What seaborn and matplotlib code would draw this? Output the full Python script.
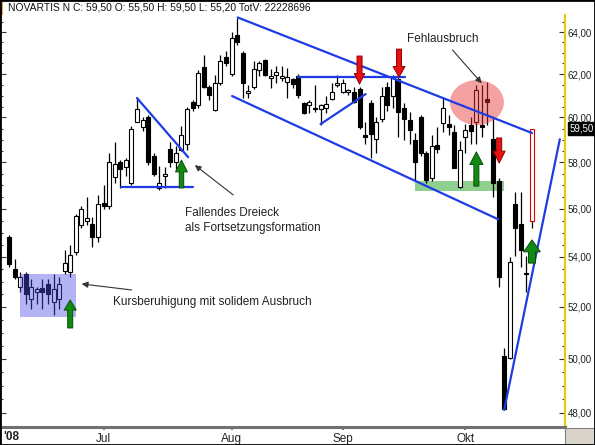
import numpy as np
import pandas as pd
import matplotlib
matplotlib.use("Agg")
import matplotlib.pyplot as plt
import matplotlib.ticker as mticker
import seaborn as sns
from matplotlib.patches import Rectangle, Ellipse
from matplotlib.transforms import blended_transform_factory

# trading days 6 Jun - 17 Oct 2008 (1 Aug Swiss holiday)
dates = pd.bdate_range("2008-06-06", "2008-10-17")
dates = dates[dates != pd.Timestamp("2008-08-01")]

opens = [54.8, 53.5, 52.8, 53.3, 52.3, 52.6, 52.75, 52.9, 52.2, 52.3, 53.45, 53.4, 54.2, 55.3, 55.5, 55.35, 54.8,
         56.25, 56.1, 57.35, 58.0, 57.8, 57.1, 59.8, 59.55, 60.0, 58.3, 56.9, 57.4, 58.6, 58.0, 58.55, 58.8, 60.7,
         60.55, 62.35, 61.4, 60.35, 61.6, 62.8,
         62.0, 63.85, 63.0, 61.1, 61.4, 62.2, 62.65, 61.8, 61.95, 61.8, 61.65, 61.75, 61.9, 60.65, 60.55, 60.45,
         60.4, 60.45, 60.85, 61.5,
         61.15, 61.15, 61.15, 61.3, 59.2, 60.65, 59.05, 59.95, 61.4, 61.0, 61.75, 60.45, 59.9, 59.0, 60.0, 58.4,
         57.3, 58.75, 59.75, 59.7, 59.35, 56.95,
         59.1, 59.65, 59.8, 59.65, 60.85, 59.05, 57.2, 50.1, 50.05, 56.2, 55.35, 53.35, 55.5]
highs = [54.9, 53.9, 53.4, 53.4, 53.1, 52.8, 53.1, 53.1, 53.3, 53.2, 54.3, 54.5, 55.8, 56.1, 56.5, 55.65, 56.6,
         57.0, 58.4, 58.9, 58.1, 58.2, 59.6, 60.9, 60.0, 60.1, 58.4, 57.85, 57.8, 58.9, 58.7, 59.6, 60.5, 60.8,
         62.2, 62.9, 61.5, 61.95, 62.9, 63.1,
         64.0, 64.7, 63.1, 61.5, 62.6, 62.6, 62.7, 62.25, 62.4, 62.4, 62.3, 61.8, 62.0, 60.7, 60.8, 61.5,
         60.6, 61.0, 61.6, 61.95,
         61.75, 61.3, 61.4, 61.4, 59.8, 60.8, 60.0, 61.4, 61.65, 61.95, 61.9, 60.65, 60.25, 59.3, 60.1, 58.5,
         59.2, 59.55, 60.9, 60.1, 59.65, 58.95,
         59.7, 60.0, 61.5, 61.5, 61.65, 60.0, 57.3, 50.4, 54.0, 56.7, 56.7, 54.05, 59.5]
lows = [53.6, 53.1, 52.6, 52.1, 51.9, 52.1, 51.9, 52.1, 51.7, 51.9, 53.3, 53.2, 54.1, 55.2, 55.3, 54.4, 54.6,
        56.0, 56.0, 57.1, 56.9, 57.4, 57.0, 59.8, 59.4, 57.9, 57.4, 56.8, 56.9, 57.8, 57.7, 58.5, 58.55, 60.3,
        60.45, 61.35, 60.8, 60.3, 61.5, 62.4,
        61.9, 63.4, 60.9, 60.9, 61.3, 61.9, 61.9, 61.35, 61.6, 61.7, 60.9, 61.35, 60.9, 60.15, 60.2, 60.25,
        59.65, 60.2, 60.8, 61.4,
        61.1, 61.05, 60.65, 59.5, 58.8, 58.2, 58.4, 59.8, 60.3, 60.45, 59.1, 59.0, 58.8, 57.2, 58.3, 57.1,
        57.2, 58.4, 59.35, 59.2, 57.75, 56.9,
        58.4, 58.8, 58.8, 59.1, 59.65, 56.5, 52.8, 48.1, 50.0, 54.05, 53.6, 52.6, 55.2]
closes = [53.7, 53.2, 53.2, 52.5, 52.8, 52.7, 52.6, 52.5, 52.7, 52.9, 53.75, 54.1, 55.7, 56.0, 55.6, 54.8, 56.2,
          56.1, 58.0, 57.95, 57.7, 58.1, 59.5, 60.4, 59.9, 58.0, 57.5, 57.1, 57.5, 58.0, 58.4, 59.2, 60.4, 60.45,
          62.05, 61.4, 61.05, 61.6, 62.6, 62.5,
          63.7, 63.5, 61.6, 61.2, 62.25, 62.5, 61.95, 61.9, 62.1, 61.9, 61.85, 61.55, 61.05, 60.2, 60.7, 60.4,
          60.55, 60.6, 61.15, 61.6,
          61.6, 61.25, 60.7, 59.55, 59.1, 59.25, 59.8, 61.0, 60.55, 61.8, 60.25, 59.95, 59.45, 58.0, 58.4, 57.25,
          58.7, 58.6, 60.45, 59.55, 57.75, 58.55,
          59.45, 59.4, 61.25, 59.55, 60.7, 57.1, 53.2, 48.15, 53.8, 55.2, 54.3, 53.3, 59.5]

price_ticks = [48, 50, 52, 54, 56, 58, 60, 62, 64]
month_names = {7: "Jul", 8: "Aug", 9: "Sep", 10: "Okt"}
title_text = "NOVARTIS N C: 59,50 O: 55,50 H: 59,50 L: 55,20 TotV: 22228696"

# trend lines (day index, price)
trend_lines = {
    "triangle_top": [(23.0, 60.89), (32.2, 58.23)],
    "triangle_base": [(20.1, 56.91), (33.1, 56.91)],
    "channel_upper": [(41.1, 64.71), (94.0, 59.30)],
    "channel_lower": [(40.1, 60.98), (87.9, 55.56)],
    "flag_top": [(52.0, 61.88), (71.2, 61.88)],
    "flag_bottom": [(56.0, 59.70), (64.1, 61.07)],
    "rebound": [(89.0, 48.11), (99.0, 59.02)],
}
# block arrows: x, tail price, tip price, head width, head length, tail width (pt)
green_arrows = [(11.0, 51.18, 52.27, 8.6, 7.2, 3.6),
                (31.0, 56.89, 58.10, 8.6, 8.5, 3.2),
                (84.0, 56.97, 58.46, 9.4, 9.0, 3.6),
                (94.0, 53.75, 54.70, 12.0, 8.6, 5.0)]
red_arrows = [(63.0, 62.85, 61.53, 7.5, 7.6, 3.6),
              (70.1, 63.18, 61.86, 8.6, 7.6, 3.6),
              (88.1, 59.08, 57.97, 8.6, 8.6, 3.6)]

sns.set_theme(style="white")
plt.rcParams["font.family"] = ["Liberation Sans", "DejaVu Sans"]

df = pd.DataFrame({"date": dates, "open": opens, "high": highs, "low": lows, "close": closes})
df["x"] = np.arange(len(df))
df["up"] = df["close"] >= df["open"]

fig = plt.figure(figsize=(5.95, 4.45), dpi=100)
ax = fig.add_axes([0, 18 / 445, 565 / 595, 412 / 445])
ax.set_yscale("log")

# zones
ax.add_patch(Rectangle((73.0, 56.74), 16.0, 0.47, color="#8fcf8f", lw=0, zorder=1))

# candles
ax.vlines(df["x"], df["low"], df["high"], color="black", lw=0.9, zorder=2)
body_lo = df[["open", "close"]].min(axis=1)
body_h = (df["close"] - df["open"]).abs().clip(lower=0.05)
edges = ["black"] * (len(df) - 1) + ["#e00000"]
ax.bar(df["x"], body_h, bottom=body_lo, width=0.72,
       color=np.where(df["up"], "white", "black"), edgecolor=edges, lw=0.8, zorder=3)

# trend lines
lines_df = pd.DataFrame([(name, px, py) for name, pts in trend_lines.items() for px, py in pts],
                        columns=["name", "x", "y"])
sns.lineplot(data=lines_df, x="x", y="y", units="name", estimator=None, color="#1e3ce6", lw=1.6,
             ax=ax, zorder=5, legend=False)

ax.add_patch(Rectangle((1.9, 51.61), 10.1, 1.70, color="#4d4de6", alpha=0.42, lw=0, zorder=4))
ax.add_patch(Ellipse((84.1, 60.69), 9.7, 2.06, color="#e83030", alpha=0.45, lw=0, zorder=4))


def block_arrow(x, y0, y1, hw, hl, tw, fc, ec):
    ax.annotate("", xy=(x, y1), xytext=(x, y0),
                arrowprops=dict(arrowstyle=f"simple,head_width={hw},head_length={hl},tail_width={tw}",
                                fc=fc, ec=ec, lw=0.7, mutation_scale=1, shrinkA=0, shrinkB=0), zorder=6)


for a in green_arrows:
    block_arrow(*a, "#108a10", "#0a4a0a")
for a in red_arrows:
    block_arrow(*a, "#e81010", "#900000")

# notes
note_kw = dict(fontsize=8.5, color="#222222", zorder=7)
ax.text(71.5, 63.66, "Fehlausbruch", ha="left", va="center", **note_kw)
ax.text(31.6, 56.07, "Fallendes Dreieck\nals Fortsetzungsformation", ha="left", va="top",
        linespacing=1.3, **note_kw)
ax.text(18.7, 52.19, "Kursberuhigung mit solidem Ausbruch", ha="left", va="center", **note_kw)
thin = dict(arrowstyle="-|>", lw=0.8, color="#333333", mutation_scale=9, shrinkA=0, shrinkB=0)
ax.annotate("", xy=(84.96, 61.57), xytext=(79.7, 63.14), arrowprops=thin, zorder=7)
ax.annotate("", xy=(33.4, 57.88), xytext=(40.3, 56.59), arrowprops=thin, zorder=7)
ax.annotate("", xy=(13.07, 52.91), xytext=(22.05, 52.67), arrowprops=thin, zorder=7)

# axes
ax.set_xlim(-1.618, 99.93)
ax.set_ylim(47.49, 64.83)
ax.yaxis.set_major_locator(mticker.FixedLocator(price_ticks))
ax.yaxis.set_major_formatter(mticker.FixedFormatter([f"{v:.2f}".replace(".", ",") for v in price_ticks]))
ax.yaxis.set_minor_locator(mticker.FixedLocator(np.arange(47.5, 65.0, 0.5)))
ax.yaxis.set_minor_formatter(mticker.NullFormatter())
ax.tick_params(axis="y", which="both", left=True, right=True, labelleft=False, labelright=True,
               direction="in", color="#333333", labelsize=7, labelcolor="#222222", pad=2)
ax.tick_params(axis="y", which="major", length=4, width=0.8)
ax.tick_params(axis="y", which="minor", length=2.5, width=0.8)

first_days = df.groupby(df["date"].dt.month)["x"].min()
month_pos = [first_days[m] for m in month_names]
ax.set_xticks(month_pos)
ax.set_xticklabels([month_names[m] for m in month_names])
ax.tick_params(axis="x", bottom=True, length=2, color="#666666", labelsize=8.5, labelcolor="#222222", pad=2)
ax.set_xlabel("")
ax.set_ylabel("")
ax.text(0.005, -0.0245, "'08", transform=ax.transAxes, ha="left", va="center", fontsize=8.5,
        fontweight="bold", color="#222222")

ax.spines["top"].set_visible(False)
ax.spines["left"].set_color("black")
ax.spines["right"].set_color("#f0c800")
ax.spines["right"].set_linewidth(1.5)
ax.spines["bottom"].set_color("#707070")
ax.spines["bottom"].set_linewidth(2.2)

# last price tag
tr2 = blended_transform_factory(ax.transAxes, ax.transData)
ax.text(1.008, closes[-1], "59,50", transform=tr2, ha="left", va="center", fontsize=7, color="white",
        bbox=dict(boxstyle="square,pad=0.12", fc="black", ec="black"), zorder=8)

# header and frame
fig.text(8 / 595, 1 - 8 / 445, title_text, ha="left", va="center", fontsize=7.4, color="#111111")
fig.add_artist(Rectangle((0, 1 - 15 / 445), 3 / 595, 15 / 445, transform=fig.transFigure, color="#f0a030", lw=0))
fig.add_artist(Rectangle((565 / 595, 0), 30 / 595, 17 / 445, transform=fig.transFigure,
                         fc="#d8d4cc", ec="#808080", lw=0.8))
fig.add_artist(Rectangle((0, 0), 1, 1, transform=fig.transFigure, fill=False, ec="black", lw=2))

fig.savefig("out.png", dpi=100)
